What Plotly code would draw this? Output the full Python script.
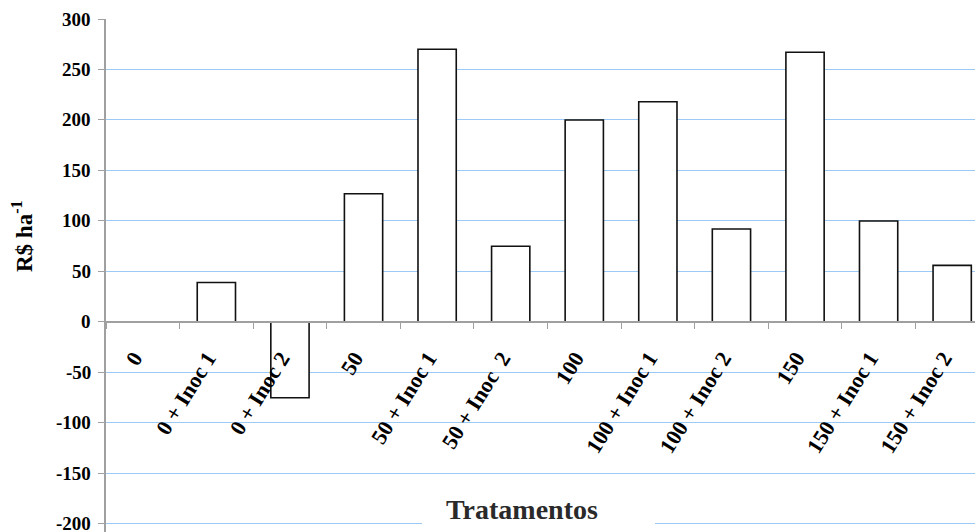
import plotly.graph_objects as go

# Treatments and net return (R$ ha-1)
tratamentos = ["0", "0 + Inoc 1", "0 + Inoc 2", "50", "50 + Inoc 1", "50 + Inoc  2",
               "100", "100 + Inoc 1", "100 + Inoc 2", "150", "150 + Inoc 1", "150 + Inoc 2"]
retorno = [0, 39, -75, 127, 270, 75, 200, 218, 92, 267, 100, 56]

y_ticks = [300, 250, 200, 150, 100, 50, 0, -50, -100, -150, -200]

FONT = "Liberation Serif"
GRID = "#9ccaf6"
AXIS = "#a0a0a0"
Y_MIN, Y_MAX = -208, 300
PAD = "\u00a0" * 3  # keeps the slanted labels clear of the zero line

fig = go.Figure(
    go.Bar(
        x=tratamentos,
        y=retorno,
        marker=dict(
            color="white",
            line=dict(color="#111111", width=[0 if v == 0 else 1.6 for v in retorno]),
        ),
        width=0.52,
    )
)

fig.update_layout(
    width=975,
    height=532,
    margin=dict(l=106, r=0, t=19, b=0),
    paper_bgcolor="white",
    plot_bgcolor="white",
    showlegend=False,
    font=dict(family=FONT, color="black"),
    yaxis=dict(
        range=[Y_MIN, Y_MAX],
        tickmode="array",
        tickvals=y_ticks,
        showticklabels=False,
        showgrid=True,
        gridcolor=GRID,
        gridwidth=1,
        zeroline=False,
        showline=True,
        linecolor=AXIS,
        linewidth=1.5,
        ticks="outside",
        ticklen=6,
        tickcolor=AXIS,
    ),
    xaxis=dict(
        type="category",
        range=[-0.5, 11.31],
        anchor="free",
        position=-Y_MIN / (Y_MAX - Y_MIN),
        showline=True,
        linecolor=AXIS,
        linewidth=1.5,
        ticks="outside",
        tickson="boundaries",
        ticklen=6,
        tickcolor=AXIS,
        tickmode="array",
        tickvals=tratamentos,
        ticktext=[f"<b>{t}</b>{PAD}" for t in tratamentos],
        tickangle=-58,
        tickfont=dict(family=FONT, size=22, color="black"),
        showgrid=False,
    ),
)

# Value labels of the vertical axis, placed on the y scale
for v in y_ticks:
    fig.add_annotation(
        text=f"<b>{v}</b>", xref="paper", yref="y",
        x=-0.0155, y=v, xanchor="right", yanchor="middle",
        showarrow=False, font=dict(family=FONT, size=19, color="black"),
    )

# White panel behind the horizontal axis title
fig.add_shape(
    type="rect", xref="paper", yref="paper",
    x0=0.3636, x1=0.6318, y0=0.008, y1=0.064,
    fillcolor="white", line=dict(width=0), layer="above",
)

fig.add_annotation(
    text="<b>Tratamentos</b>", xref="paper", yref="paper",
    x=0.4787, y=0.0448, xanchor="center", yanchor="middle",
    showarrow=False, font=dict(family=FONT, size=28, color="#2a2a2a"),
)

fig.add_annotation(
    text="<b>R$ ha<sup>-1</sup></b>", xref="paper", yref="paper",
    x=-0.0955, y=0.577, xanchor="center", yanchor="middle", textangle=-90,
    showarrow=False, font=dict(family=FONT, size=23, color="black"),
)

fig.write_html("out.html")
